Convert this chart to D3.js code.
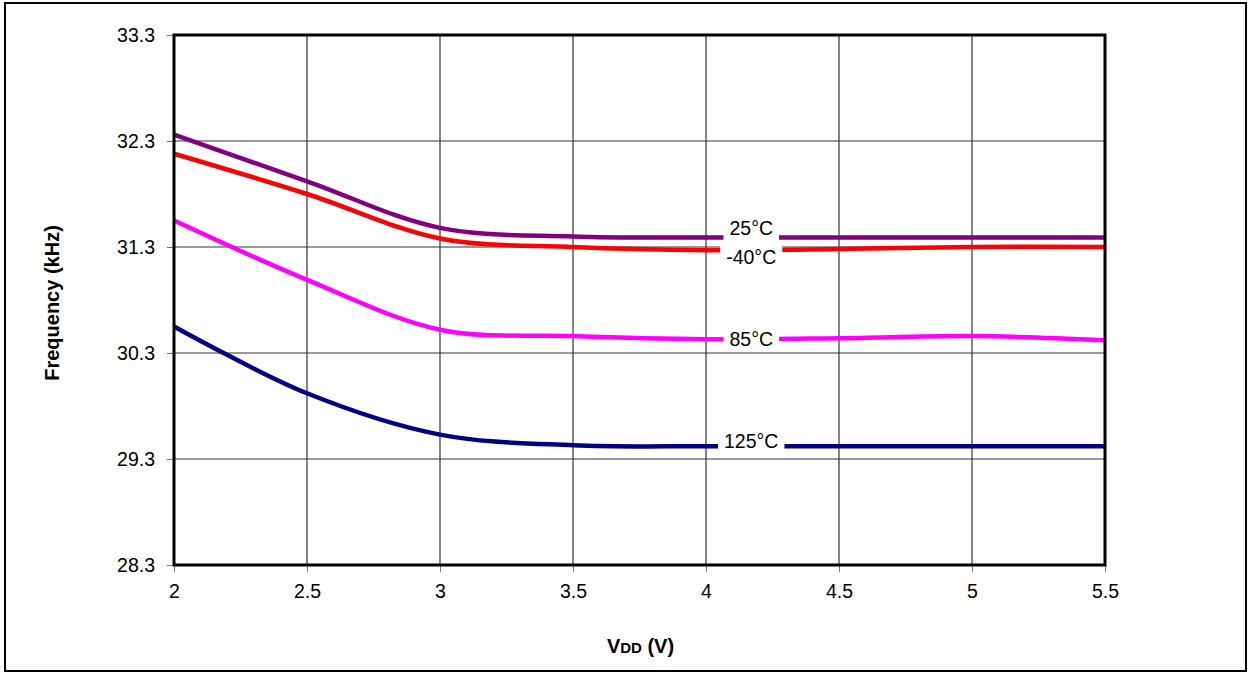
<!DOCTYPE html>
<html>
<head>
<meta charset="utf-8">
<script src="https://cdn.jsdelivr.net/npm/d3@7"></script>
<style>
  body { margin: 0; background: #fff; }
  text { font-family: Arial, 'Liberation Sans', sans-serif; }
</style>
</head>
<body>
<svg></svg>
<script>
const vdd = [2, 2.5, 3, 3.5, 4, 4.5, 5, 5.5];

const freq25 = [32.36, 31.92, 31.48, 31.40, 31.39, 31.39, 31.39, 31.39];
const freqMinus40 = [32.18, 31.80, 31.38, 31.30, 31.27, 31.28, 31.30, 31.30];
const freq85 = [31.55, 30.99, 30.52, 30.46, 30.43, 30.44, 30.46, 30.42];
const freq125 = [30.55, 29.92, 29.53, 29.43, 29.42, 29.42, 29.42, 29.42];

const xTicks = [2, 2.5, 3, 3.5, 4, 4.5, 5, 5.5];
const yTicks = [28.3, 29.3, 30.3, 31.3, 32.3, 33.3];

const series = [
  { name: '25°C', values: freq25, color: '#800080', dy: -9 },
  { name: '-40°C', values: freqMinus40, color: '#ff0000', dy: 7 },
  { name: '85°C', values: freq85, color: '#ff00ff', dy: 0 },
  { name: '125°C', values: freq125, color: '#000080', dy: -5 },
];

const WIDTH = 1251;
const HEIGHT = 673;
const margin = { top: 35, right: 146, bottom: 108, left: 174 };
const LABEL_X = 4.17;
const FONT_SIZE = 19.5;

window.onload = () => {
  const svg = d3.select('svg')
      .attr('width', WIDTH)
      .attr('height', HEIGHT);

  // outer frame
  svg.append('rect')
      .attr('x', 5)
      .attr('y', 3)
      .attr('width', WIDTH - 10)
      .attr('height', HEIGHT - 5)
      .attr('fill', '#fff')
      .attr('stroke', '#000')
      .attr('stroke-width', 2);

  const w = WIDTH - margin.left - margin.right;
  const h = HEIGHT - margin.top - margin.bottom;

  const x = d3.scaleLinear().domain([2, 5.5]).range([0, w]);
  const y = d3.scaleLinear().domain([28.3, 33.3]).range([h, 0]);

  const g = svg.append('g')
      .attr('transform', `translate(${margin.left}, ${margin.top})`);

  // grid
  g.append('g')
      .selectAll('line')
      .data(xTicks.slice(1, -1))
      .join('line')
      .attr('x1', (d) => x(d)).attr('x2', (d) => x(d))
      .attr('y1', 0).attr('y2', h)
      .attr('stroke', '#333')
      .attr('stroke-width', 1.2);
  g.append('g')
      .selectAll('line')
      .data(yTicks.slice(1, -1))
      .join('line')
      .attr('x1', 0).attr('x2', w)
      .attr('y1', (d) => y(d)).attr('y2', (d) => y(d))
      .attr('stroke', '#333')
      .attr('stroke-width', 1.2);

  // axes
  const xAxis = g.append('g')
      .attr('transform', `translate(0, ${h})`)
      .call(d3.axisBottom(x).tickValues(xTicks).tickSize(7).tickPadding(12)
          .tickFormat(d3.format('')));
  const yAxis = g.append('g')
      .call(d3.axisLeft(y).tickValues(yTicks).tickSize(7).tickPadding(12)
          .tickFormat(d3.format('.1f')));
  [xAxis, yAxis].forEach((a) => {
    a.select('.domain').remove();
    a.selectAll('line').attr('stroke', '#777');
    a.selectAll('text')
        .attr('font-size', FONT_SIZE)
        .attr('fill', '#000')
        .style('font-family', 'Arial, "Liberation Sans", sans-serif');
  });

  // curves
  const line = d3.line()
      .x((d, i) => x(vdd[i]))
      .y((d) => y(d))
      .curve(d3.curveCatmullRom.alpha(0.5));

  g.append('g')
      .selectAll('path')
      .data(series)
      .join('path')
      .attr('d', (d) => line(d.values))
      .attr('fill', 'none')
      .attr('stroke', (d) => d.color)
      .attr('stroke-width', 4.5);

  // inline labels with white boxes
  const labels = g.append('g')
      .selectAll('g')
      .data(series)
      .join('g')
      .attr('transform', (d) => {
        const v = d3.scaleLinear().domain(vdd).range(d.values)(LABEL_X);
        return `translate(${x(LABEL_X)}, ${y(v) + d.dy})`;
      });
  labels.append('text')
      .attr('text-anchor', 'middle')
      .attr('dy', '0.36em')
      .attr('font-size', FONT_SIZE)
      .text((d) => d.name);
  labels.each(function() {
    const sel = d3.select(this);
    const bb = sel.select('text').node().getBBox();
    sel.insert('rect', 'text')
        .attr('x', bb.x - 6)
        .attr('y', bb.y - 1)
        .attr('width', bb.width + 12)
        .attr('height', bb.height + 2)
        .attr('fill', '#fff');
  });

  // plot border
  g.append('rect')
      .attr('width', w)
      .attr('height', h)
      .attr('fill', 'none')
      .attr('stroke', '#000')
      .attr('stroke-width', 3);

  // axis titles
  svg.append('text')
      .attr('transform', `translate(59, ${margin.top + h / 2 + 3}) rotate(-90)`)
      .attr('text-anchor', 'middle')
      .attr('font-size', 20)
      .attr('font-weight', 'bold')
      .text('Frequency (kHz)');

  const xt = svg.append('text')
      .attr('x', margin.left + w / 2 + 1)
      .attr('y', 653)
      .attr('text-anchor', 'middle')
      .attr('font-size', 20)
      .attr('font-weight', 'bold');
  xt.append('tspan').text('V');
  xt.append('tspan').attr('font-size', 15).text('DD');
  xt.append('tspan').text(' (V)');
};
</script>
</body>
</html>
